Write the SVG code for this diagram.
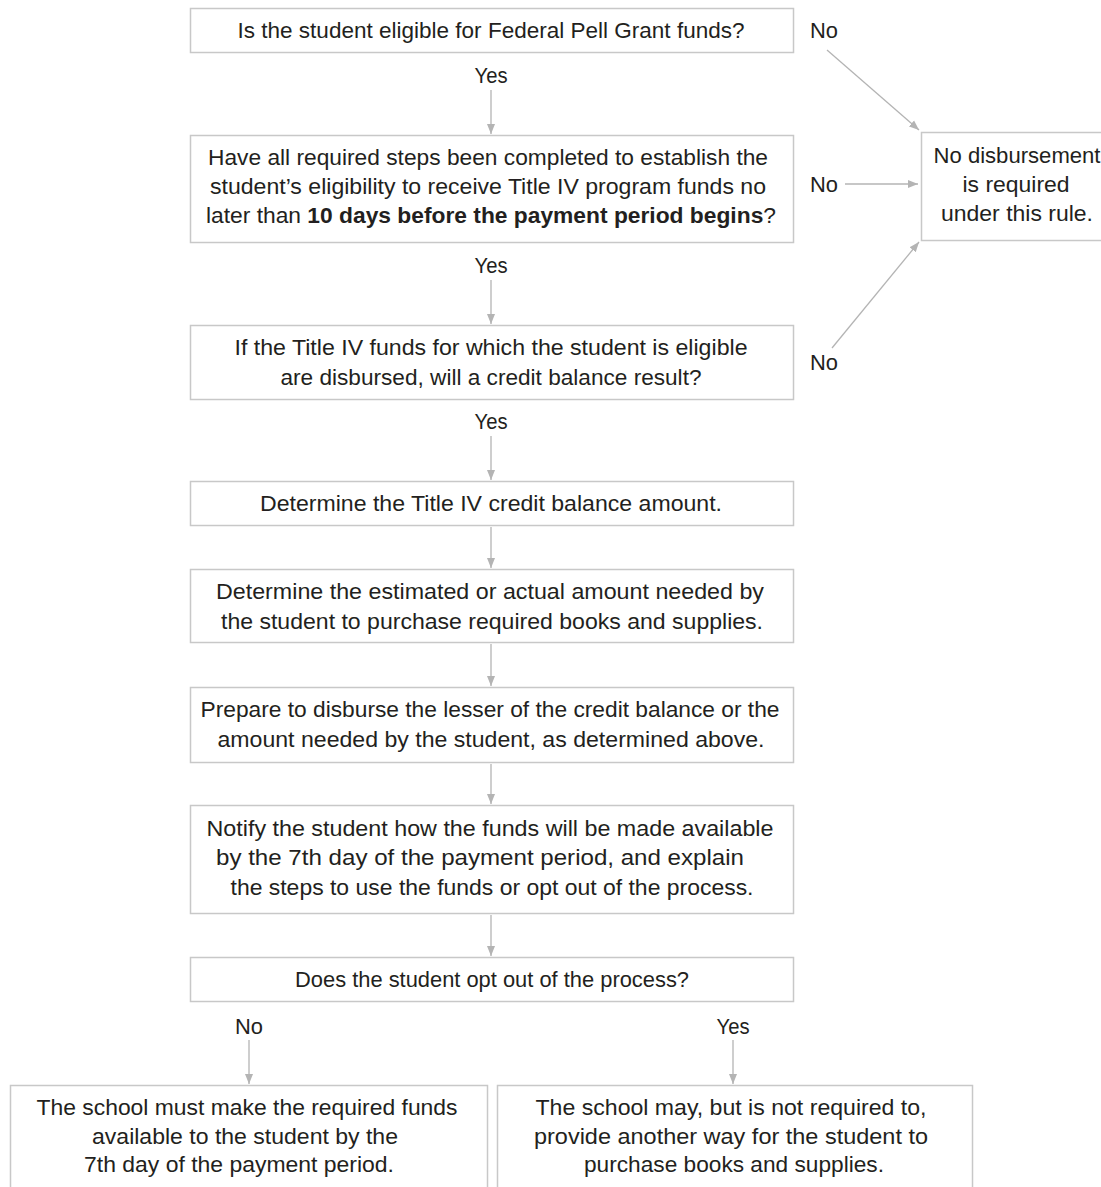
<svg xmlns="http://www.w3.org/2000/svg" width="1101" height="1187" viewBox="0 0 1101 1187">
<defs>
<marker id="ah" viewBox="0 0 10 10" refX="10" refY="5" markerWidth="10" markerHeight="10" markerUnits="userSpaceOnUse" orient="auto">
<path d="M0,1 L10,5 L0,9 z" fill="#b4b4b4"/>
</marker>
<style>
.box{fill:#fff;stroke:#c8c8c8;stroke-width:1.5}
.t{font-family:"Liberation Sans",Arial,sans-serif;font-size:22px;fill:#231f20;text-anchor:middle}
.b{font-weight:bold}
.c{stroke:#b4b4b4;stroke-width:1.3;fill:none;marker-end:url(#ah)}
</style>
</defs>
<rect width="1101" height="1187" fill="#fff"/>
<g id="connectors">
<line class="c" x1="491" y1="90" x2="491" y2="134"/>
<line class="c" x1="491" y1="280" x2="491" y2="324"/>
<line class="c" x1="491" y1="436" x2="491" y2="480"/>
<line class="c" x1="491" y1="527" x2="491" y2="568"/>
<line class="c" x1="491" y1="644" x2="491" y2="686"/>
<line class="c" x1="491" y1="764" x2="491" y2="804"/>
<line class="c" x1="491" y1="915" x2="491" y2="956"/>
<line class="c" x1="249" y1="1040" x2="249" y2="1084"/>
<line class="c" x1="733" y1="1040" x2="733" y2="1084"/>
<line class="c" x1="827" y1="50" x2="919" y2="130"/>
<line class="c" x1="845" y1="184" x2="918" y2="184"/>
<line class="c" x1="832" y1="348" x2="919" y2="242"/>
<text class="t" x="491" y="83" textLength="33" lengthAdjust="spacingAndGlyphs">Yes</text>
<text class="t" x="491" y="273" textLength="33" lengthAdjust="spacingAndGlyphs">Yes</text>
<text class="t" x="491" y="429" textLength="33" lengthAdjust="spacingAndGlyphs">Yes</text>
<text class="t" x="824" y="38" textLength="28" lengthAdjust="spacingAndGlyphs">No</text>
<text class="t" x="824" y="192" textLength="28" lengthAdjust="spacingAndGlyphs">No</text>
<text class="t" x="824" y="370" textLength="28" lengthAdjust="spacingAndGlyphs">No</text>
<text class="t" x="249" y="1034" textLength="28" lengthAdjust="spacingAndGlyphs">No</text>
<text class="t" x="733" y="1034" textLength="33" lengthAdjust="spacingAndGlyphs">Yes</text>
</g>
<g id="n1">
<rect class="box" x="190.5" y="8.5" width="603" height="44"/>
<text class="t" x="491" y="38" textLength="507" lengthAdjust="spacingAndGlyphs">Is the student eligible for Federal Pell Grant funds?</text>
</g>
<g id="n2">
<rect class="box" x="190.5" y="135.5" width="603" height="107"/>
<text class="t" x="488" y="165" textLength="560" lengthAdjust="spacingAndGlyphs">Have all required steps been completed to establish the</text>
<text class="t" x="488" y="194" textLength="556" lengthAdjust="spacingAndGlyphs">student’s eligibility to receive Title IV program funds no</text>
<text class="t" x="491" y="223" textLength="570" lengthAdjust="spacingAndGlyphs">later than <tspan class="b">10 days before the payment period begins</tspan>?</text>
</g>
<g id="n3">
<rect class="box" x="190.5" y="325.5" width="603" height="74"/>
<text class="t" x="491" y="355" textLength="513" lengthAdjust="spacingAndGlyphs">If the Title IV funds for which the student is eligible</text>
<text class="t" x="491" y="385" textLength="421" lengthAdjust="spacingAndGlyphs">are disbursed, will a credit balance result?</text>
</g>
<g id="n4">
<rect class="box" x="190.5" y="481.5" width="603" height="44"/>
<text class="t" x="491" y="511" textLength="462" lengthAdjust="spacingAndGlyphs">Determine the Title IV credit balance amount.</text>
</g>
<g id="n5">
<rect class="box" x="190.5" y="569.5" width="603" height="73"/>
<text class="t" x="490" y="599" textLength="548" lengthAdjust="spacingAndGlyphs">Determine the estimated or actual amount needed by</text>
<text class="t" x="492" y="629" textLength="542" lengthAdjust="spacingAndGlyphs">the student to purchase required books and supplies.</text>
</g>
<g id="n6">
<rect class="box" x="190.5" y="687.5" width="603" height="75"/>
<text class="t" x="490" y="717" textLength="579" lengthAdjust="spacingAndGlyphs">Prepare to disburse the lesser of the credit balance or the</text>
<text class="t" x="491" y="747" textLength="547" lengthAdjust="spacingAndGlyphs">amount needed by the student, as determined above.</text>
</g>
<g id="n7">
<rect class="box" x="190.5" y="805.5" width="603" height="108"/>
<text class="t" x="490" y="836" textLength="567" lengthAdjust="spacingAndGlyphs">Notify the student how the funds will be made available</text>
<text class="t" x="480" y="865" textLength="528" lengthAdjust="spacingAndGlyphs">by the 7th day of the payment period, and explain</text>
<text class="t" x="492" y="895" textLength="523" lengthAdjust="spacingAndGlyphs">the steps to use the funds or opt out of the process.</text>
</g>
<g id="n8">
<rect class="box" x="190.5" y="957.5" width="603" height="44"/>
<text class="t" x="492" y="987" textLength="394" lengthAdjust="spacingAndGlyphs">Does the student opt out of the process?</text>
</g>
<g id="n9">
<rect class="box" x="10.5" y="1085.5" width="477" height="120"/>
<text class="t" x="247" y="1115" textLength="421" lengthAdjust="spacingAndGlyphs">The school must make the required funds</text>
<text class="t" x="245" y="1144" textLength="306" lengthAdjust="spacingAndGlyphs">available to the student by the</text>
<text class="t" x="239" y="1172" textLength="310" lengthAdjust="spacingAndGlyphs">7th day of the payment period.</text>
</g>
<g id="n10">
<rect class="box" x="497.5" y="1085.5" width="475" height="120"/>
<text class="t" x="731" y="1115" textLength="391" lengthAdjust="spacingAndGlyphs">The school may, but is not required to,</text>
<text class="t" x="731" y="1144" textLength="394" lengthAdjust="spacingAndGlyphs">provide another way for the student to</text>
<text class="t" x="734" y="1172" textLength="300" lengthAdjust="spacingAndGlyphs">purchase books and supplies.</text>
</g>
<g id="n11">
<rect class="box" x="921.5" y="132.5" width="200" height="108"/>
<text class="t" x="1017" y="163" textLength="167" lengthAdjust="spacingAndGlyphs">No disbursement</text>
<text class="t" x="1016" y="192" textLength="107" lengthAdjust="spacingAndGlyphs">is required</text>
<text class="t" x="1017" y="221" textLength="152" lengthAdjust="spacingAndGlyphs">under this rule.</text>
</g>
</svg>
